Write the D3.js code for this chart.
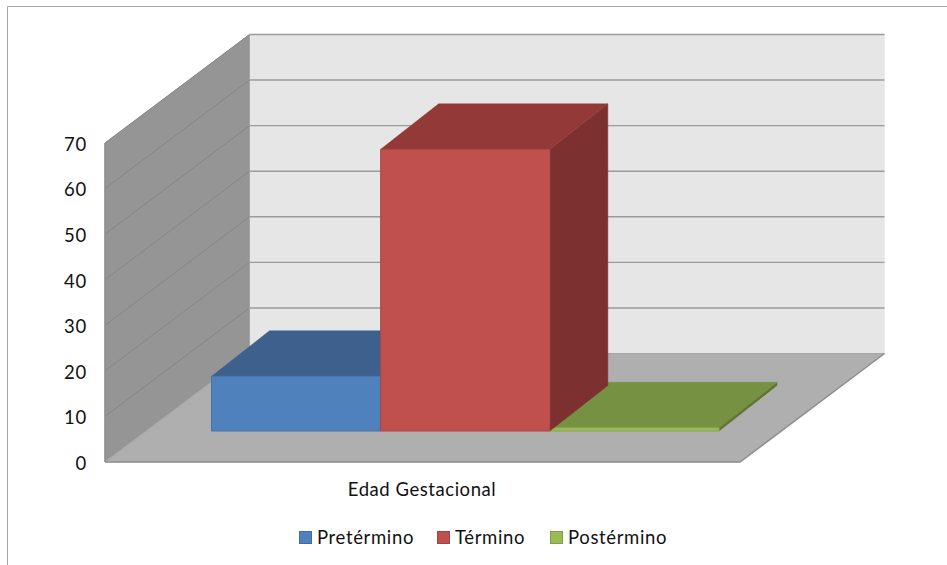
<!DOCTYPE html>
<html><head><meta charset="utf-8">
<script src="https://cdn.jsdelivr.net/npm/d3@7/dist/d3.min.js"></script>
<style>html,body{margin:0;padding:0;background:#fff}svg{display:block}text{font-family:Lato,sans-serif;fill:#111}</style>
</head><body><svg id="c" width="947" height="565"></svg>
<script>
const seriesNames = ["Pretérmino","Término","Postérmino"];
const seriesValues = [12,61.8,0.7];
const frontColors = ["#4f81bd","#c0504d","#9bbb59"];
const topColors = ["#3d618c","#933a38","#779143"];
const sideColors = ["#335378","#7c3130","#5f7535"];
const tickValues = [0,10,20,30,40,50,60,70];
const categoryLabel = "Edad Gestacional";

const svg = d3.select("#c");
const W = 105, E = 740, DX = 144.5, DY = -108.5;     // plot box
const y = d3.scaleLinear().domain([0,70]).range([462,143]);
const x = d3.scaleBand().domain(seriesNames).range([211.5,719]).padding(0);
const barLift = -31, barDX = 58, barDY = -45.5;
const line = d3.line();
const poly = (pts,fill,stroke) => svg.append("path").attr("d",line(pts)+"Z").attr("fill",fill).attr("stroke",stroke||fill).attr("stroke-width",stroke?1:0.5);

// frame
svg.append("path").attr("d","M7.5,565V6.5H947").attr("fill","none").attr("stroke","#a6a6a6").attr("stroke-width",1);

// walls + floor
const t = y(70), b = y(0);
poly([[W+DX,t+DY],[E+DX,t+DY],[E+DX,b+DY],[W+DX,b+DY]],"#e6e6e6");
poly([[W,t],[W+DX,t+DY],[W+DX,b+DY],[W,b]],"#959595");
poly([[W,b],[E,b],[E+DX,b+DY],[W+DX,b+DY]],"#afafaf");

// gridlines
tickValues.forEach(v=>{
  if(v===0){
    svg.append("path").attr("d",line([[W,y(v)],[W+DX,y(v)+DY],[E+DX,y(v)+DY]])).attr("fill","none").attr("stroke","#a6a6a6").attr("stroke-width",1);
    svg.append("path").attr("d",line([[W,y(v)],[E,y(v)],[E+DX,y(v)+DY]])).attr("fill","none").attr("stroke","#8f8f8f").attr("stroke-width",1.5);
  } else {
    svg.append("path").attr("d",line([[W+DX,y(v)+DY],[E+DX,y(v)+DY]])).attr("fill","none").attr("stroke","#9b9b9b").attr("stroke-width",1.4);
    svg.append("path").attr("d",line([[W,y(v)],[W+DX,y(v)+DY]])).attr("fill","none").attr("stroke","#858585").attr("stroke-width",1);
  }
});
svg.append("path").attr("d",line([[W,b],[W,t]])).attr("fill","none").attr("stroke","#8c8c8c").attr("stroke-width",1.5);
svg.append("path").attr("d",line([[W+DX,b+DY],[W+DX,t+DY]])).attr("fill","none").attr("stroke","#a3a3a3").attr("stroke-width",1);

// bars (drawn back-to-front so the tall one hides its neighbours' edges)
[0,2,1].forEach(i=>{
  const x0 = x(seriesNames[i]), x1 = x0 + x.bandwidth();
  const y0 = y(0)+barLift, y1 = y(seriesValues[i])+barLift;
  poly([[x1,y0],[x1+barDX,y0+barDY],[x1+barDX,y1+barDY],[x1,y1]],sideColors[i]);
  poly([[x0,y1],[x1,y1],[x1+barDX,y1+barDY],[x0+barDX,y1+barDY]],topColors[i]);
  poly([[x0,y0],[x1,y0],[x1,y1],[x0,y1]],frontColors[i],d3.color(frontColors[i]).darker(0.35));
});

// y axis labels
const ax = svg.append("g").attr("transform","translate(87,1.5)")
  .call(d3.axisLeft(y).tickValues(tickValues).tickSize(0).tickPadding(0));
ax.select(".domain").remove();
ax.selectAll("text").style("font-family","Lato,sans-serif").style("font-size","18.5px").style("letter-spacing","0.8px").attr("fill","#111");

// category label
svg.append("text").attr("x",422).attr("y",496).attr("text-anchor","middle").style("font-size","18.5px").style("letter-spacing","0.55px").text(categoryLabel);

// legend
const swatchX = [299,437,550];
seriesNames.forEach((n,i)=>{
  svg.append("rect").attr("x",swatchX[i]+.5).attr("y",531.5).attr("width",12).attr("height",12).attr("fill",frontColors[i]).attr("stroke",d3.color(frontColors[i]).darker(0.5)).attr("stroke-width",1);
  svg.append("text").attr("x",swatchX[i]+18).attr("y",544).style("font-size","18.5px").style("letter-spacing","0.65px").text(n);
});
</script></body></html>
